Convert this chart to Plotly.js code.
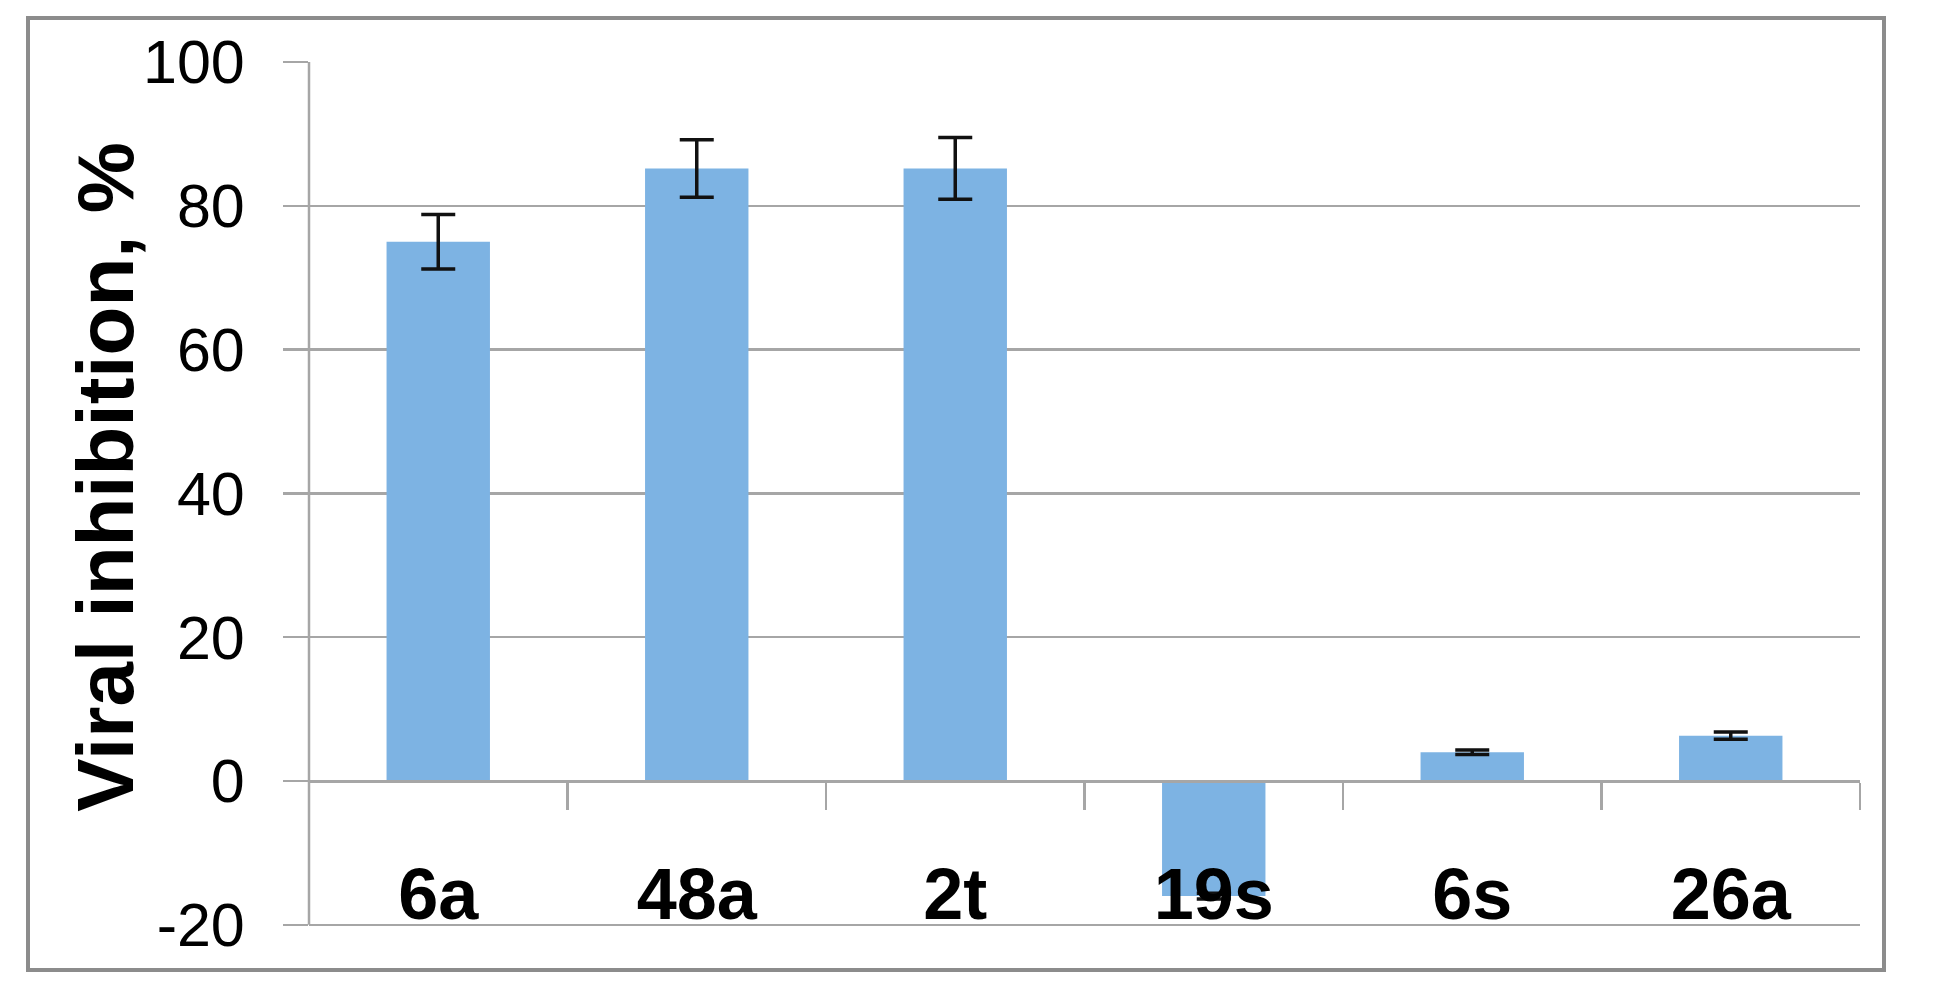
<!DOCTYPE html>
<html>
<head>
<meta charset="utf-8">
<script src="https://cdn.plot.ly/plotly-3.0.1.min.js"></script>
<style>
  html, body { margin: 0; padding: 0; background: #ffffff; }
  #chart { width: 1938px; height: 1002px; position: absolute; left: 0; top: 0; }
  #frame { position: absolute; left: 26px; top: 16px; width: 1852px; height: 948px;
           border: 4px solid #8c8c8c; pointer-events: none; }
</style>
</head>
<body>
<div id="chart"></div>
<div id="frame"></div>
<script>
// Data
const compounds = ["6a", "48a", "2t", "19s", "6s", "26a"];
const inhibition = [75, 85.2, 85.2, -16, 4.0, 6.3];
const errorValues = [3.8, 4.0, 4.3, 0.4, 0.3, 0.5];
const yTickValues = [-20, 0, 20, 40, 60, 80, 100];
const yRange = [-21, 100];
const yAxisTitle = "Viral inhibition, %";

const gridGray = "#a6a6a6";

const trace = {
  type: "bar",
  x: compounds,
  y: inhibition,
  marker: { color: "#7db3e3" },
  error_y: {
    type: "data",
    array: errorValues,
    visible: true,
    color: "#111111",
    thickness: 3.5,
    width: 17
  },
  hoverinfo: "x+y"
};

const layout = {
  width: 1938,
  height: 1002,
  margin: { l: 309, r: 78, t: 62, b: 70 },
  paper_bgcolor: "#ffffff",
  plot_bgcolor: "#ffffff",
  showlegend: false,
  bargap: 0.6,
  xaxis: {
    type: "category",
    anchor: "free",
    position: (0 - yRange[0]) / (yRange[1] - yRange[0]),
    showline: true,
    linecolor: gridGray,
    linewidth: 2.5,
    ticks: "outside",
    tickson: "boundaries",
    ticklen: 27,
    tickwidth: 2.5,
    tickcolor: gridGray,
    showgrid: false,
    ticklabelstandoff: 50,
    tickfont: { family: "Liberation Sans, Arial, sans-serif", size: 72, color: "#000000", weight: "bold" },
    automargin: false
  },
  yaxis: {
    range: yRange,
    tickvals: yTickValues,
    ticktext: yTickValues.map(String),
    showline: false,
    ticks: "outside",
    ticklen: 25,
    tickwidth: 2.5,
    tickcolor: gridGray,
    showgrid: true,
    gridcolor: gridGray,
    gridwidth: 2.5,
    zeroline: false,
    ticklabelstandoff: 26,
    tickfont: { family: "Liberation Sans, Arial, sans-serif", size: 61, color: "#000000" },
    automargin: false
  },
  annotations: [{
    text: yAxisTitle,
    xref: "paper", yref: "paper",
    x: -0.131, y: 0.523,
    xanchor: "center", yanchor: "middle",
    textangle: -90,
    showarrow: false,
    font: { family: "Liberation Sans, Arial, sans-serif", size: 80, color: "#000000", weight: "bold" }
  }],
  shapes: [{
    type: "line", xref: "paper", yref: "y",
    x0: 0, x1: 0, y0: yTickValues[0], y1: yTickValues[yTickValues.length - 1],
    line: { color: gridGray, width: 2.5 }
  }]
};

Plotly.newPlot("chart", [trace], layout, { displayModeBar: false, staticPlot: true });
</script>
</body>
</html>
